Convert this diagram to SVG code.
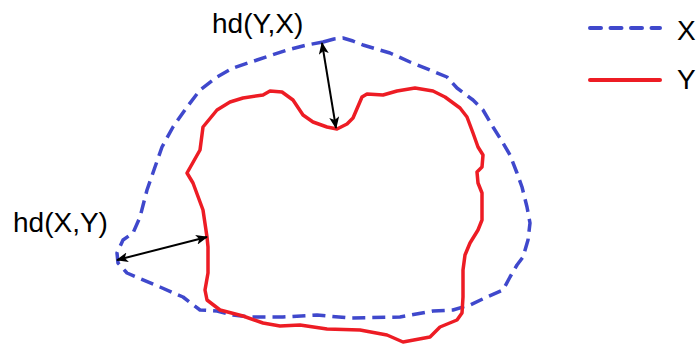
<svg xmlns="http://www.w3.org/2000/svg" width="697" height="344" viewBox="0 0 697 344">
<defs>
<style>
.x{fill:none;stroke:#3f48cc;stroke-width:3.5;stroke-dasharray:13 7;stroke-linejoin:round}
.y{fill:none;stroke:#ed1c24;stroke-width:3.5;stroke-linejoin:round;stroke-linecap:round}
.a{fill:none;stroke:#000;stroke-width:2;marker-start:url(#ah);marker-end:url(#ah)}
.t{font-family:"Liberation Sans",Arial,sans-serif;font-size:28px;fill:#000}
</style>
<marker id="ah" viewBox="0 0 12 10" refX="11" refY="5" markerWidth="12" markerHeight="10" markerUnits="userSpaceOnUse" orient="auto-start-reverse">
<path d="M0,0 L12,5 L0,10 L3,5 Z" fill="#000"/>
</marker>
</defs>
<g id="X">
<path class="x" d="M323,42 L334,39 L343,38 L353,41 L363,45 L390,53 L410,62 L430,70 L447,77 L457,88 L473,100 L483,110 L493,127 L503,143 L510,155 L517,173 L522,187 L527,207 L530,223 L528,240 L523,257 L517,265 L510,277 L503,290 L487,297 L470,305 L453,310 L433,311 L400,317 L350,318 L317,315 L283,317 L250,317 L233,315 L217,311 L200,310 L183,297 L160,287 L127,273 L118,263 L117,253 L123,240 L133,233 L140,217 L147,190 L155,167 L162,147 L173,127 L187,107 L200,90 L217,77 L233,68 L257,60 L287,50 L307,45 Z"/>
</g>
<g id="Y">
<path class="y" d="M337,129 L347,124 L353,118 L362,97 L367,94 L383,95 L397,91 L415,88 L433,91 L445,97 L460,108 L467,117 L473,133 L478,147 L483,155 L482,167 L477,172 L478,183 L482,193 L482,220 L478,230 L470,243 L465,255 L463,270 L463,297 L462,313 L457,320 L440,327 L430,337 L403,342 L387,335 L360,330 L327,329 L300,325 L280,326 L263,323 L243,316 L220,310 L207,300 L205,290 L208,273 L208,247 L207,237 L203,210 L193,183 L187,173 L200,150 L203,127 L217,110 L230,102 L243,98 L263,95 L270,91 L282,92 L293,100 L303,115 L313,122 L327,127 Z"/>
</g>
<g id="connectors">
<line class="a" x1="322" y1="43" x2="336" y2="128"/>
<line class="a" x1="117" y1="260" x2="207" y2="237"/>
</g>
<g id="labels">
<text class="t" x="212" y="33">hd(Y,X)</text>
<text class="t" x="13" y="232">hd(X,Y)</text>
</g>
<g id="legend">
<line x1="590" y1="28" x2="660" y2="28" stroke="#3f48cc" stroke-width="4" stroke-dasharray="11 9.5" stroke-linecap="round"/>
<text class="t" x="677" y="40">X</text>
<line x1="590" y1="80" x2="660" y2="80" stroke="#ed1c24" stroke-width="4" stroke-linecap="round"/>
<text class="t" x="677" y="89">Y</text>
</g>
</svg>
